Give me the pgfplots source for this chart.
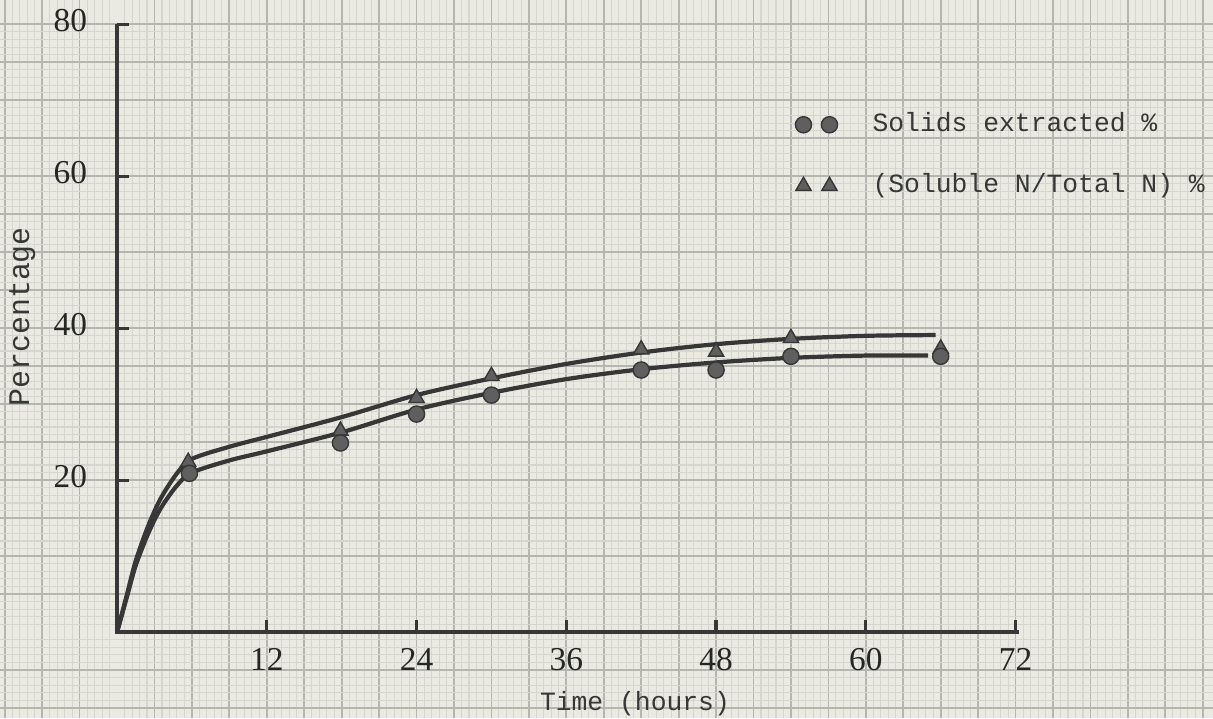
\documentclass[border=0pt]{standalone}
\usepackage{fontspec}
\setmainfont{Liberation Mono}
\newfontfamily\tickfont{Liberation Serif}
\usepackage{pgfplots}
\pgfplotsset{compat=1.18}
\definecolor{paper}{RGB}{234,234,227}
\definecolor{gmaj}{RGB}{182,182,177}
\definecolor{gmin}{RGB}{214,214,208}
\definecolor{ink}{RGB}{55,55,55}
\definecolor{markfill}{RGB}{95,95,95}
\pgfplotsset{twomarks/.style={legend image code/.code={\draw[##1] plot coordinates {(0cm,0cm) (0.26cm,0cm)};}}}
\begin{document}
\begin{tikzpicture}
\begin{axis}[
  scale only axis,
  width=12.13cm, height=7.18cm,
  xmin=-9.38, xmax=87.82, ymin=-11.3, ymax=83.2,
  axis x line=middle, axis y line=middle,
  axis line style={draw=none, -},
  axis background/.style={fill=paper},
  xtick={-9,-6,...,87},
  ytick={-10,-5,...,80},
  xticklabels={}, yticklabels={},
  minor tick num=4,
  grid=both,
  major grid style={gmaj, line width=0.5pt},
  minor grid style={gmin, line width=0.3pt},
  minor tick length=0pt,
  major tick length=0pt,
  extra x ticks={12,24,36,48,60,72},
  extra y ticks={20,40,60,80},
  extra tick style={grid=none, major tick length=3.4pt, tick align=inside, tick style={ink, line width=0.9pt}},
  tick label style={font=\tickfont\fontsize{9.5}{10}\selectfont, text=black!85},
  /pgf/number format/assume math mode=true,
  xticklabel style={yshift=-1pt},
  yticklabel style={xshift=-5pt, yshift=1pt},
  xlabel={Time (hours)},
  ylabel={Percentage},
  every axis x label/.style={at={(axis cs:41.5,-9.4)}, anchor=center, font=\fontsize{7.5}{9}\selectfont, text=ink},
  every axis y label/.style={at={(axis cs:-7.6,41.5)}, anchor=center, rotate=90, font=\fontsize{8.5}{10}\selectfont, text=ink},
  clip=false,
  reverse legend,
  legend style={at={(axis cs:54.3,69.4)}, anchor=north west, draw=none, fill=none,
    font=\fontsize{7.5}{9}\selectfont, text=ink, row sep=6.5pt, inner sep=0pt,
    /tikz/every odd column/.append style={column sep=0.28cm}},
  legend cell align=left,
]
\coordinate (bl) at (rel axis cs:0,0);
\coordinate (tr) at (rel axis cs:1,1);
% fitted curves
\addplot[ink, line width=1.2pt, smooth, forget plot] coordinates {
 (0,0) (0.8,5.0) (1.5,9.4) (2.5,14.0) (3.5,17.6) (4.8,20.9) (6,22.8) (9,24.4) (12,25.7)
 (18,28.3) (24,31.2) (30,33.4) (36,35.3) (42,36.8) (48,37.9) (54,38.6) (60,39.0) (65.6,39.1)};
\addplot[ink, line width=1.2pt, smooth, forget plot] coordinates {
 (0,0) (0.8,4.7) (1.5,8.8) (2.5,13.0) (3.5,16.3) (4.8,19.3) (6,21.0) (9,22.6) (12,23.8)
 (18,26.3) (24,29.3) (30,31.5) (36,33.3) (42,34.6) (48,35.5) (54,36.1) (60,36.4) (65,36.4)};
% axis lines
\draw[ink, line width=1.2pt] (axis cs:0,80) -- (axis cs:0,0) -- (axis cs:72.3,0);
% triangles
\addplot[only marks, mark=triangle*, mark size=2.5pt, mark options={fill=markfill, draw=ink, line width=0.4pt}, twomarks] coordinates {
 (5.7,22.4) (17.9,26.5) (24,30.8) (30,33.7) (42,37.2) (48,36.9) (54,38.7) (66,37.3)};
% circles
\addplot[only marks, mark=*, mark size=2.3pt, mark options={fill=markfill, draw=ink, line width=0.4pt}, twomarks] coordinates {
 (5.8,20.9) (17.9,24.9) (24,28.7) (30,31.2) (42,34.5) (48,34.5) (54,36.3) (66,36.3)};
\legend{(Soluble N/Total N) \%, Solids extracted \%}
\end{axis}
\pgfresetboundingbox
\useasboundingbox (bl) rectangle (tr);
\end{tikzpicture}
\end{document}
